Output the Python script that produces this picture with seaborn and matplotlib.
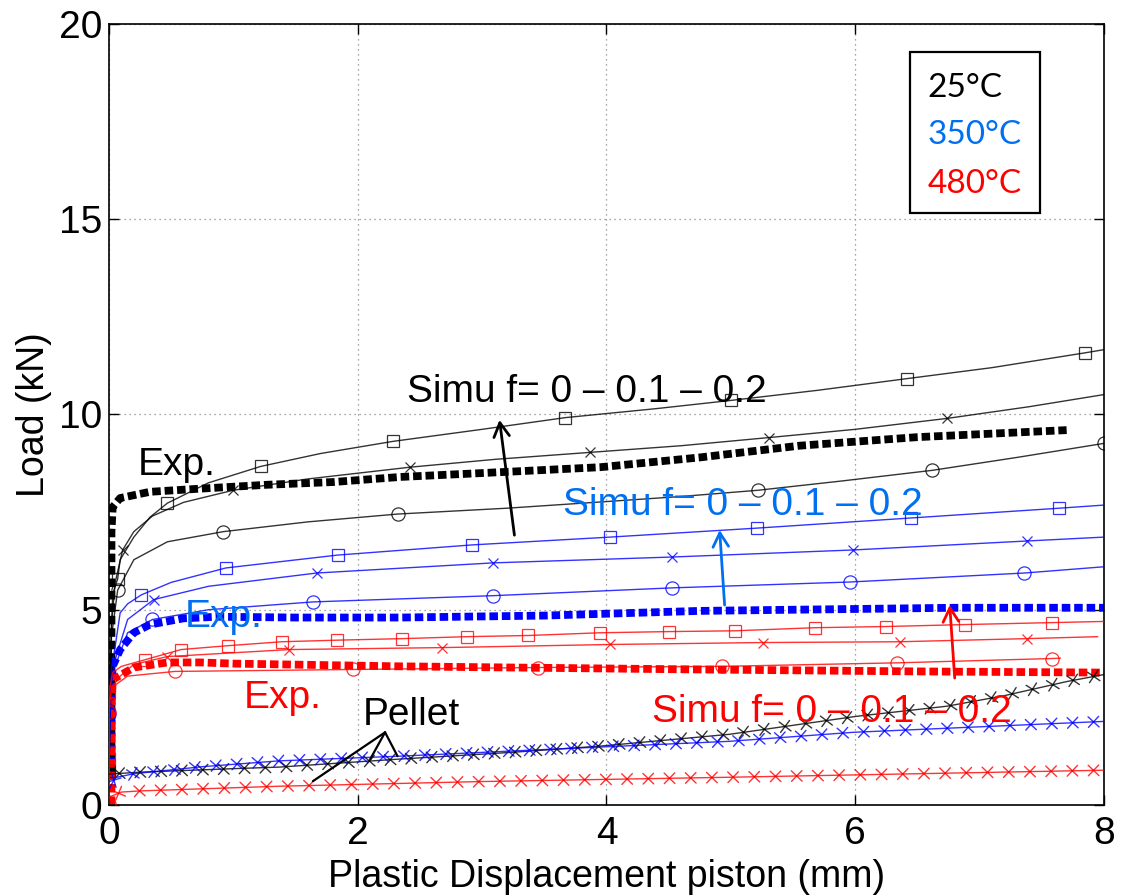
import numpy as np
import seaborn as sns
import matplotlib
matplotlib.use("Agg")
import matplotlib.pyplot as plt
from matplotlib import patheffects as pe
from matplotlib.patches import Rectangle

# ==================== data ====================
# experimental curves (thick dashed)
exp25_x = [0.02, 0.02, 0.03, 0.09, 0.33, 0.73, 1.27, 1.8, 2.34, 3.0, 3.95, 4.75, 5.55, 6.5, 7.7]
exp25_y = [0.8, 7.0, 7.63, 7.86, 8.02, 8.1, 8.2, 8.27, 8.4, 8.5, 8.65, 8.9, 9.2, 9.42, 9.6]
exp350_x = [0.02, 0.02, 0.03, 0.09, 0.2, 0.33, 0.6, 0.87, 1.5, 2.34, 3.5, 4.75, 5.5, 6.8, 8.0]
exp350_y = [1.0, 3.0, 3.55, 3.98, 4.41, 4.62, 4.78, 4.82, 4.8, 4.8, 4.85, 4.97, 5.0, 5.05, 5.05]
exp480_x = [0.02, 0.02, 0.03, 0.2, 0.47, 0.73, 1.0, 2.34, 4.75, 6.5, 8.0]
exp480_y = [0.0, 2.5, 3.21, 3.52, 3.65, 3.65, 3.62, 3.55, 3.47, 3.42, 3.39]

# simulations, 25°C, f = 0 / 0.1 / 0.2
s25_f0_x = [0.0, 0.02, 0.03, 0.07, 0.09, 0.2, 0.33, 0.47, 0.8, 1.22, 1.7, 2.28, 3.0, 3.67, 4.4, 5.0, 5.7, 6.42, 7.1, 7.85, 8.0]
s25_f0_y = [0.87, 4.5, 5.4, 5.79, 6.28, 6.86, 7.37, 7.73, 8.25, 8.67, 9.0, 9.31, 9.62, 9.92, 10.15, 10.36, 10.62, 10.92, 11.2, 11.58, 11.66]
s25_f0_mk = [0, 3, 7, 9, 11, 13, 15, 17, 19]
s25_f1_x = [0.0, 0.02, 0.05, 0.11, 0.2, 0.35, 0.6, 1.0, 1.6, 2.42, 3.1, 3.87, 4.6, 5.31, 6.0, 6.74, 7.4, 8.0]
s25_f1_y = [0.87, 4.6, 5.7, 6.53, 7.0, 7.4, 7.75, 8.06, 8.35, 8.65, 8.85, 9.03, 9.2, 9.41, 9.62, 9.9, 10.2, 10.51]
s25_f1_mk = [3, 7, 9, 11, 13, 15]
s25_f2_x = [0.0, 0.02, 0.07, 0.2, 0.47, 0.92, 1.6, 2.32, 3.2, 4.0, 4.6, 5.22, 5.9, 6.62, 7.3, 8.0]
s25_f2_y = [0.87, 4.3, 5.5, 6.28, 6.74, 7.0, 7.25, 7.45, 7.6, 7.77, 7.9, 8.06, 8.3, 8.57, 8.9, 9.26]
s25_f2_mk = [2, 5, 7, 11, 13, 15]

# simulations, 350°C
s350_f0_x = [0.0, 0.02, 0.05, 0.09, 0.15, 0.26, 0.5, 0.94, 1.84, 2.92, 4.03, 5.21, 6.45, 7.64, 8.0]
s350_f0_y = [0.9, 3.5, 4.06, 4.92, 5.15, 5.38, 5.7, 6.07, 6.4, 6.66, 6.86, 7.09, 7.35, 7.6, 7.68]
s350_f0_mk = [5, 7, 8, 9, 10, 11, 12, 13]
s350_f1_x = [0.0, 0.0, 0.02, 0.05, 0.15, 0.36, 0.8, 1.67, 3.09, 4.53, 5.98, 7.38, 8.0]
s350_f1_y = [0.66, 2.63, 3.2, 3.72, 4.75, 5.26, 5.6, 5.94, 6.2, 6.35, 6.53, 6.76, 6.86]
s350_f1_mk = [1, 5, 7, 8, 9, 10, 11]
s350_f2_x = [0.0, 0.0, 0.03, 0.15, 0.35, 0.8, 1.64, 3.09, 4.53, 5.96, 7.36, 8.0]
s350_f2_y = [0.5, 2.32, 3.39, 4.41, 4.75, 5.0, 5.2, 5.36, 5.56, 5.71, 5.94, 6.1]
s350_f2_mk = [1, 4, 6, 7, 8, 9, 10]

# simulations, 480°C
s480_f0_x = [0.0, 0.0, 0.0, 0.03, 0.1, 0.29, 0.58, 0.96, 1.39, 1.83, 2.36, 2.88, 3.37, 3.95, 4.5, 5.03, 5.68, 6.25, 6.88, 7.58, 8.0]
s480_f0_y = [0.5, 1.17, 2.9, 3.39, 3.55, 3.72, 3.98, 4.08, 4.18, 4.22, 4.26, 4.31, 4.34, 4.41, 4.44, 4.46, 4.54, 4.57, 4.62, 4.67, 4.7]
s480_f0_mk = [1, 2, 5, 6, 7, 8, 9, 10, 11, 12, 13, 14, 15, 16, 17, 18, 19]
s480_f1_x = [0.0, 0.0, 0.02, 0.09, 0.2, 0.47, 1.45, 2.68, 4.03, 5.26, 6.36, 7.38, 7.95]
s480_f1_y = [0.5, 2.6, 3.0, 3.3, 3.6, 3.8, 3.98, 4.03, 4.11, 4.16, 4.18, 4.26, 4.31]
s480_f1_mk = [5, 6, 7, 8, 9, 10, 11]
s480_f2_x = [0.0, 0.0, 0.02, 0.15, 0.53, 1.96, 3.45, 4.93, 6.34, 7.58, 7.65]
s480_f2_y = [0.02, 2.37, 3.0, 3.3, 3.42, 3.47, 3.52, 3.55, 3.64, 3.75, 3.76]
s480_f2_mk = [0, 1, 4, 5, 6, 7, 8, 9]

# pellet curves
pel25_x = [0.0, 0.25, 1.0, 1.37, 2.31, 3.25, 3.96, 4.99, 6.01, 6.74, 7.2, 7.7, 8.0]
pel25_y = [0.79, 0.84, 0.93, 0.97, 1.17, 1.35, 1.51, 1.81, 2.27, 2.53, 2.8, 3.16, 3.34]
pel350_x = [0.0, 0.05, 0.2, 0.75, 1.37, 2.34, 3.5, 4.99, 5.98, 8.0]
pel350_y = [0.4, 0.7, 0.8, 0.98, 1.13, 1.25, 1.42, 1.63, 1.86, 2.14]
pel480_x = [0.0, 0.1, 0.25, 1.37, 3.0, 4.99, 6.5, 8.0]
pel480_y = [0.2, 0.33, 0.36, 0.48, 0.6, 0.71, 0.8, 0.89]

temp_labels = ['25°C', '350°C', '480°C']
x_ticks = [0, 2, 4, 6, 8]
y_ticks = [0, 5, 10, 15, 20]

# ==================== style ====================
sns.set_style("ticks")
plt.rcParams['font.family'] = ['Liberation Sans', 'DejaVu Sans']
plt.rcParams['text.color'] = 'black'
plt.rcParams['axes.labelcolor'] = 'black'

c_black = '#000000'
c_blue = '#0000FF'
c_red = '#FF0000'
c_text_blue = '#0070F0'

fig = plt.figure(figsize=(11.21, 8.96), dpi=100)
ax = fig.add_axes([0.0972, 0.1016, 0.8876, 0.8716])

# experimental curves
exp_dash = (0, (1.1, 0.5))
for xs, ys, c in [(exp25_x, exp25_y, c_black), (exp350_x, exp350_y, c_blue), (exp480_x, exp480_y, c_red)]:
    sns.lineplot(x=xs, y=ys, ax=ax, estimator=None, sort=False, color=c,
                 linewidth=5.6, linestyle=exp_dash, zorder=2)

# simulation curves
simu = [
    (s25_f0_x, s25_f0_y, s25_f0_mk, c_black, 's'),
    (s25_f1_x, s25_f1_y, s25_f1_mk, c_black, 'x'),
    (s25_f2_x, s25_f2_y, s25_f2_mk, c_black, 'o'),
    (s350_f0_x, s350_f0_y, s350_f0_mk, c_blue, 's'),
    (s350_f1_x, s350_f1_y, s350_f1_mk, c_blue, 'x'),
    (s350_f2_x, s350_f2_y, s350_f2_mk, c_blue, 'o'),
    (s480_f0_x, s480_f0_y, s480_f0_mk, c_red, 's'),
    (s480_f1_x, s480_f1_y, s480_f1_mk, c_red, 'x'),
    (s480_f2_x, s480_f2_y, s480_f2_mk, c_red, 'o'),
]
msize = {'s': 8.5, 'x': 7.5, 'o': 9.5}
for xs, ys, mk, c, m in simu:
    sns.lineplot(x=xs, y=ys, ax=ax, estimator=None, sort=False, color=c, alpha=0.8,
                 linewidth=1.0, marker=m, markevery=mk, markersize=msize[m],
                 markerfacecolor='none', markeredgecolor=c, markeredgewidth=0.9,
                 zorder=3)

# pellet curves: x marks spaced along the line
def x_marks(spacing=15, length=0.36):
    return [pe.Normal()] + [pe.TickedStroke(spacing=spacing, angle=a, length=length)
                            for a in (45, 135, -45, -135)]

for xs, ys, c in [(pel25_x, pel25_y, c_black), (pel350_x, pel350_y, c_blue), (pel480_x, pel480_y, c_red)]:
    sns.lineplot(x=xs, y=ys, ax=ax, estimator=None, sort=False, color=c, alpha=0.8,
                 linewidth=1.0, path_effects=x_marks(), zorder=3)

# ==================== annotations ====================
fs = 28
ax.text(2.395, 10.32, 'Simu f= 0 – 0.1 – 0.2', fontsize=fs, color=c_black, va='baseline', zorder=6)
ax.text(0.23, 8.45, 'Exp.', fontsize=fs, color=c_black, va='baseline', zorder=6)
ax.text(3.65, 7.43, 'Simu f= 0 – 0.1 – 0.2', fontsize=fs, color=c_text_blue, va='baseline', zorder=6)
ax.text(0.61, 4.56, 'Exp.', fontsize=fs, color=c_text_blue, va='baseline', zorder=6)
ax.text(1.08, 2.48, 'Exp.', fontsize=fs, color=c_red, va='baseline', zorder=6)
ax.text(4.365, 2.13, 'Simu f= 0 – 0.1 – 0.2', fontsize=fs, color=c_red, va='baseline', zorder=6)
ax.text(2.04, 2.05, 'Pellet', fontsize=fs, color=c_black, va='baseline', zorder=6)

arrow_kw = dict(arrowstyle='->, head_length=0.5, head_width=0.28', lw=2.0,
                shrinkA=0, shrinkB=0, mutation_scale=20)
ax.annotate('', xy=(3.14, 9.86), xytext=(3.26, 6.91),
            arrowprops=dict(color=c_black, **arrow_kw), zorder=6)
ax.annotate('', xy=(4.91, 7.04), xytext=(4.95, 5.12),
            arrowprops=dict(color=c_text_blue, **arrow_kw), zorder=6)
ax.annotate('', xy=(6.76, 5.12), xytext=(6.8, 3.25),
            arrowprops=dict(color=c_red, **arrow_kw), zorder=6)

# pointer lines from "Pellet"
for tx, ty in [(1.64, 0.61), (2.1, 1.17), (2.32, 1.25)]:
    ax.plot([2.22, tx], [1.86, ty], color='black', lw=1.6, zorder=5)

# temperature key box
ax.add_patch(Rectangle((0.805, 0.758), 0.131, 0.206, transform=ax.transAxes,
                       facecolor='white', edgecolor='black', lw=1.6, zorder=7))
for lab, c, yy in zip(temp_labels, [c_black, c_text_blue, c_red], [0.9065, 0.8464, 0.7836]):
    ax.text(0.823, yy, lab, transform=ax.transAxes, fontsize=24, color=c,
            family=['Lato', 'DejaVu Sans'], va='baseline', zorder=8)

# ==================== axes ====================
ax.set_xlim(0, 8)
ax.set_ylim(0, 20)
ax.set_xticks(x_ticks)
ax.set_yticks(y_ticks)
ax.grid(True, color='#888888', linestyle=(0, (1, 3)), linewidth=0.9)
ax.tick_params(direction='in', length=7, width=1, top=True, right=True, labelsize=28,
               colors='black', labelcolor='black')
ax.tick_params(axis='x', pad=8)
ax.tick_params(axis='y', pad=5)
for sp in ax.spines.values():
    sp.set_visible(True)
    sp.set_linewidth(1.2)
    sp.set_color('black')
ax.set_xlabel('Plastic Displacement piston (mm)', fontsize=27, labelpad=5, color='black')
ax.set_ylabel('Load (kN)', fontsize=27, labelpad=5, color='black')

fig.savefig('out.png', dpi=100)
